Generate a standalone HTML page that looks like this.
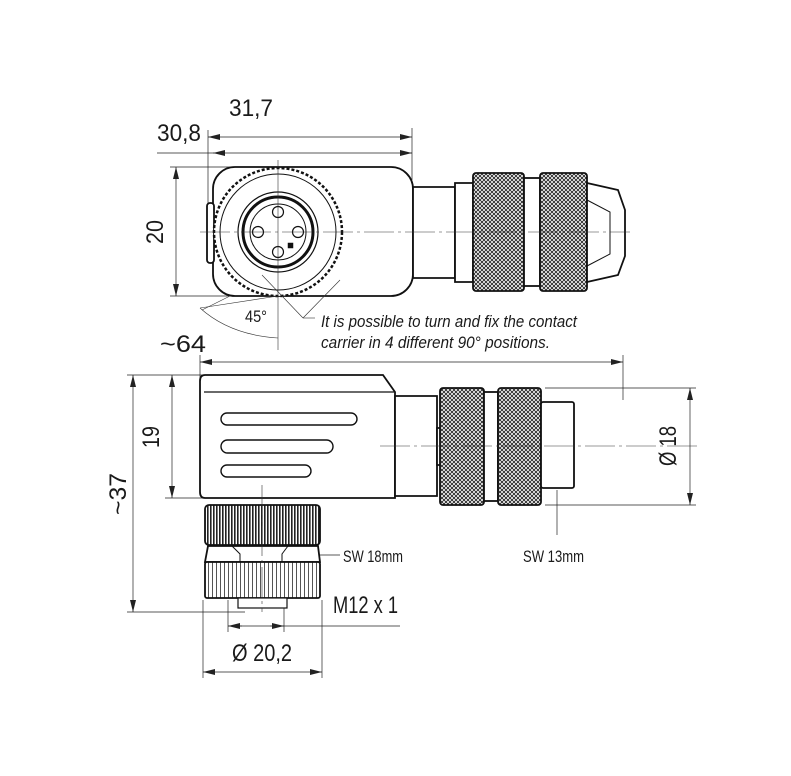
<!DOCTYPE html>
<html><head><meta charset="utf-8"><style>
html,body{margin:0;padding:0;background:#fff;}
svg{display:block;}
text{font-family:"Liberation Sans",sans-serif;fill:#1a1a1a;}
</style></head><body>
<svg width="791" height="776" viewBox="0 0 791 776" xmlns="http://www.w3.org/2000/svg">
<defs>
<pattern id="kn" width="4" height="4" patternUnits="userSpaceOnUse">
<rect width="4" height="4" fill="#fff"/>
<path d="M0 0L4 4M4 0L0 4" stroke="#222" stroke-width="0.9"/>
</pattern>
<pattern id="vl" width="3" height="10" patternUnits="userSpaceOnUse">
<rect width="3" height="10" fill="#fff"/><rect width="1.6" height="10" fill="#222"/>
</pattern>
<pattern id="vl2" width="4" height="10" patternUnits="userSpaceOnUse">
<rect width="4" height="10" fill="#fff"/><rect width="1" height="10" fill="#555"/>
</pattern>
<marker id="a" markerWidth="12" markerHeight="6" refX="12" refY="3" orient="auto" markerUnits="userSpaceOnUse"><path d="M0 0L12 3L0 6z" fill="#222"/></marker>
<marker id="b" markerWidth="12" markerHeight="6" refX="0" refY="3" orient="auto" markerUnits="userSpaceOnUse"><path d="M12 0L0 3L12 6z" fill="#222"/></marker>
</defs>
<g stroke="#222" fill="none" stroke-width="0.7">
<!-- top dims -->
<line x1="208" y1="137" x2="412" y2="137" marker-start="url(#b)" marker-end="url(#a)"/>
<line x1="157" y1="153" x2="412" y2="153"/>
<line x1="213" y1="153" x2="225" y2="153" marker-start="url(#b)"/>
<line x1="400" y1="153" x2="412" y2="153" marker-end="url(#a)"/>
<line x1="412" y1="128" x2="412" y2="180"/>
<line x1="208" y1="130" x2="208" y2="210"/>
<line x1="176" y1="167" x2="176" y2="296" marker-start="url(#b)" marker-end="url(#a)"/>
<line x1="170" y1="167" x2="240" y2="167"/>
<line x1="170" y1="296" x2="240" y2="296"/>
</g>
<!-- top view body -->
<g stroke="#111" fill="#fff" stroke-width="1.8">
<rect x="213" y="167" width="200" height="129" rx="22"/>
<path d="M413 187H455V278H413z"/>
<path d="M455 183H473V282H455z"/>
<rect x="473" y="173" width="51" height="118" rx="3" fill="url(#kn)"/>
<rect x="524" y="178" width="16" height="108"/>
<rect x="540" y="173" width="47" height="118" rx="3" fill="url(#kn)"/>
<path d="M587 183L618 190L625 210V256L618 275L587 282z"/>
<path d="M587 200L610 212V254L587 266" fill="none" stroke-width="1"/>
<rect x="207" y="203" width="7" height="60" rx="3"/>
<circle cx="278" cy="232" r="64" stroke-dasharray="3 2" stroke-width="2.5"/>
<circle cx="278" cy="232" r="58" stroke-width="1"/>
<circle cx="278" cy="232" r="40" stroke-width="1.2"/>
<circle cx="278" cy="232" r="35" stroke-width="3"/>
<circle cx="278" cy="232" r="28" stroke-width="1"/>
<circle cx="278" cy="212" r="5.5" stroke-width="1.2"/>
<circle cx="258" cy="232" r="5.5" stroke-width="1.2"/>
<circle cx="298" cy="232" r="5.5" stroke-width="1.2"/>
<circle cx="278" cy="252" r="5.5" stroke-width="1.2"/>
<rect x="288" y="243" width="5" height="5" fill="#111" stroke-width="0.5"/>
</g>
<g stroke="#333" stroke-width="0.6" fill="none">
<line x1="200" y1="232" x2="630" y2="232" stroke-dasharray="30 4 3 4"/>
<line x1="278" y1="160" x2="278" y2="350"/>
<line x1="278" y1="296" x2="200" y2="308"/>
<line x1="230" y1="296" x2="202" y2="310"/>
<path d="M200 308Q230 335 278 338"/>
<line x1="262" y1="275" x2="303" y2="318"/>
<line x1="303" y1="318" x2="340" y2="280"/>
<line x1="303" y1="318" x2="315" y2="318"/>
</g>
<text x="245" y="322" font-size="17" textLength="22" lengthAdjust="spacingAndGlyphs">45°</text>
<text x="229" y="116" font-size="24" textLength="44" lengthAdjust="spacingAndGlyphs">31,7</text>
<text x="157" y="141" font-size="24" textLength="44" lengthAdjust="spacingAndGlyphs">30,8</text>
<text transform="translate(163,232) rotate(-90)" x="0" y="0" text-anchor="middle" font-size="24" textLength="24" lengthAdjust="spacingAndGlyphs">20</text>
<text x="160" y="352" font-size="24" textLength="46" lengthAdjust="spacingAndGlyphs">~64</text>
<text x="321" y="327" font-size="17" font-style="italic" textLength="256" lengthAdjust="spacingAndGlyphs">It is possible to turn and fix the contact</text>
<text x="321" y="348" font-size="17" font-style="italic" textLength="229" lengthAdjust="spacingAndGlyphs">carrier in 4 different 90° positions.</text>

<!-- bottom view dims -->
<g stroke="#222" fill="none" stroke-width="0.7">
<line x1="200" y1="362" x2="623" y2="362" marker-start="url(#b)" marker-end="url(#a)"/>
<line x1="200" y1="355" x2="200" y2="380"/>
<line x1="623" y1="355" x2="623" y2="400"/>
<line x1="133" y1="375" x2="133" y2="612" marker-start="url(#b)" marker-end="url(#a)"/>
<line x1="127" y1="375" x2="210" y2="375"/>
<line x1="127" y1="612" x2="245" y2="612"/>
<line x1="172" y1="375" x2="172" y2="498" marker-start="url(#b)" marker-end="url(#a)"/>
<line x1="165" y1="498" x2="215" y2="498"/>
<line x1="690" y1="388" x2="690" y2="505" marker-start="url(#b)" marker-end="url(#a)"/>
<line x1="545" y1="388" x2="696" y2="388"/>
<line x1="545" y1="505" x2="696" y2="505"/>
<line x1="228" y1="626" x2="400" y2="626"/>
<line x1="228" y1="626" x2="242" y2="626" marker-start="url(#b)"/>
<line x1="270" y1="626" x2="284" y2="626" marker-end="url(#a)"/>
<line x1="228" y1="600" x2="228" y2="632"/>
<line x1="284" y1="600" x2="284" y2="632"/>
<line x1="203" y1="672" x2="322" y2="672" marker-start="url(#b)" marker-end="url(#a)"/>
<line x1="203" y1="600" x2="203" y2="678"/>
<line x1="322" y1="600" x2="322" y2="678"/>
<line x1="290" y1="555" x2="340" y2="555"/>
<line x1="557" y1="490" x2="557" y2="535"/>
</g>
<g stroke="#111" fill="#fff" stroke-width="1.8">
<path d="M205 375H383L395 392V498H205Q200 498 200 492V381Q200 375 205 375z"/>
<line x1="204" y1="392" x2="394" y2="392" stroke-width="1.2"/>
<path d="M395 396H437V496H395z"/>
<path d="M437 428H455V465H437z"/>
<rect x="440" y="388" width="44" height="117" rx="3" fill="url(#kn)"/>
<rect x="484" y="392" width="14" height="109"/>
<rect x="498" y="388" width="43" height="117" rx="3" fill="url(#kn)"/>
<rect x="541" y="402" width="33" height="86" rx="2"/>
<rect x="221" y="413" width="136" height="12" rx="6" stroke-width="1.4"/>
<rect x="221" y="440" width="112" height="13" rx="6.5" stroke-width="1.4"/>
<rect x="221" y="465" width="90" height="12" rx="6" stroke-width="1.4"/>
<rect x="205" y="505" width="115" height="40" rx="4" fill="url(#vl)"/>
<path d="M208 546H318L320 562H205z"/>
<path d="M232 546L240 554V562M288 546L282 554V562" fill="none" stroke-width="1"/>
<rect x="205" y="562" width="115" height="36" rx="2" fill="url(#vl2)"/>
<rect x="238" y="598" width="49" height="10" stroke-width="1.2"/>
</g>
<g stroke="#333" stroke-width="0.6" fill="none" stroke-dasharray="30 4 3 4">
<line x1="380" y1="446" x2="700" y2="446"/>
<line x1="262" y1="485" x2="262" y2="612"/>
</g>
<text transform="translate(159,437) rotate(-90)" text-anchor="middle" font-size="24" textLength="22" lengthAdjust="spacingAndGlyphs">19</text>
<text transform="translate(126,494) rotate(-90)" text-anchor="middle" font-size="24" textLength="42" lengthAdjust="spacingAndGlyphs">~37</text>
<text transform="translate(676,446) rotate(-90)" text-anchor="middle" font-size="24" textLength="40" lengthAdjust="spacingAndGlyphs">Ø 18</text>
<text x="343" y="562" font-size="17" textLength="60" lengthAdjust="spacingAndGlyphs">SW 18mm</text>
<text x="523" y="562" font-size="17" textLength="61" lengthAdjust="spacingAndGlyphs">SW 13mm</text>
<text x="333" y="613" font-size="24" textLength="65" lengthAdjust="spacingAndGlyphs">M12 x 1</text>
<text x="232" y="661" font-size="24" textLength="60" lengthAdjust="spacingAndGlyphs">Ø 20,2</text>
</svg>
</body></html>
